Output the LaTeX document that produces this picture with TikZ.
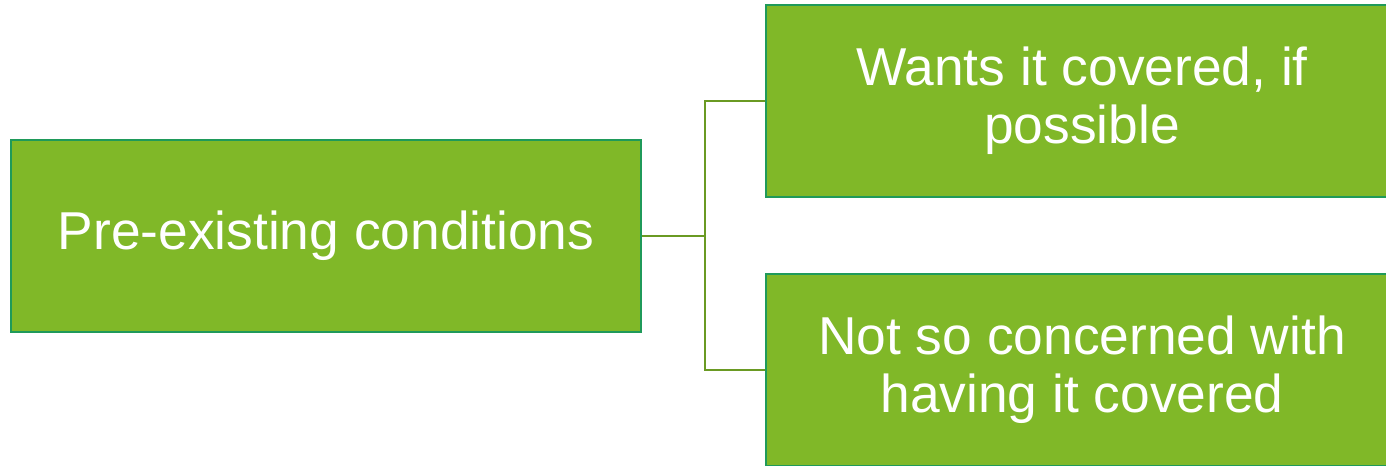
\documentclass[tikz,border=0pt]{standalone}
\usepackage{fontspec}
\setmainfont{Liberation Sans}
\definecolor{boxfill}{HTML}{80B828}
\definecolor{boxline}{HTML}{1F9A5A}
\definecolor{conn}{HTML}{6A9A23}
\begin{document}
\begin{tikzpicture}[x=0.75pt,y=-0.75pt,
  gbox/.style={draw=boxline,line width=1.8pt,fill=boxfill,text=white,align=center,
    font=\fontsize{40}{43.5}\selectfont,inner sep=0pt},
  link/.style={draw=conn,line width=2pt}]
\useasboundingbox (0,0) rectangle (1386,466);
\path[clip] (0,0) rectangle (1386,466);
\node[gbox,minimum width=630*0.75pt,minimum height=192*0.75pt] (root) at (326,236) {Pre-existing conditions};
\node[gbox,minimum width=632*0.75pt,minimum height=192*0.75pt] (top) at (1082,101) {Wants it covered, if\\possible};
\node[gbox,minimum width=632*0.75pt,minimum height=192*0.75pt] (bot) at (1082,370) {Not so concerned with\\having it covered};
\coordinate (mid) at (705,236);
\draw[link] (root.east) -- (mid) |- (top.west);
\draw[link] (mid) |- (bot.west);
\end{tikzpicture}
\end{document}
